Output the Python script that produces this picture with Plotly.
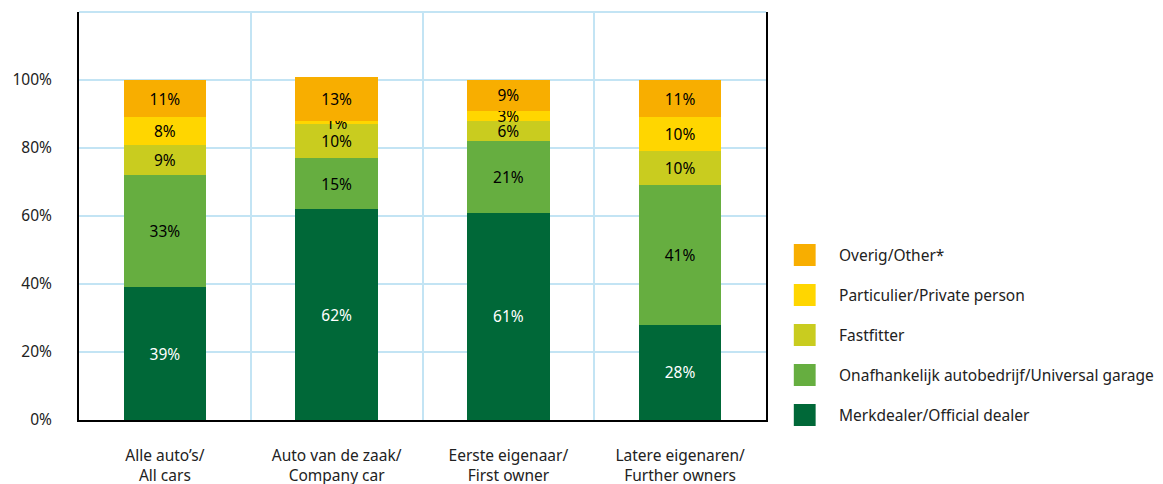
import plotly.graph_objects as go

# Categories (two-line tick labels)
categories = ["Alle auto’s/<br>All cars", "Auto van de zaak/<br>Company car",
              "Eerste eigenaar/<br>First owner", "Latere eigenaren/<br>Further owners"]

# Series, bottom to top
series_names = ["Merkdealer/Official dealer", "Onafhankelijk autobedrijf/Universal garage",
                "Fastfitter", "Particulier/Private person", "Overig/Other*"]
merkdealer = [39, 62, 61, 28]
onafhankelijk = [33, 15, 21, 41]
fastfitter = [9, 10, 6, 10]
particulier = [8, 1, 3, 10]
overig = [11, 13, 9, 11]

values = [merkdealer, onafhankelijk, fastfitter, particulier, overig]
colors = ["#006838", "#66ae40", "#c9cc1f", "#ffd600", "#f8ae00"]
text_colors = ["white", "black", "black", "black", "black"]

FONT = "Noto Sans"
FS = 15.5
xpos = list(range(len(categories)))

# page has an 8px body margin; plot area in screen px: x 74..766, y 12..420
PX0, PX1 = 74, 766
fig = go.Figure()
for name, vals, col, tcol in zip(series_names, values, colors, text_colors):
    fig.add_trace(go.Bar(
        x=xpos, y=vals, name=name,
        marker=dict(color=col, line=dict(width=0)),
        text=[f"{v}%" for v in vals],
        textposition="inside", insidetextanchor="middle", textangle=0,
        textfont=dict(color=tcol, size=FS, family=FONT),
        constraintext="none",
        width=0.48, showlegend=False,
    ))

# Manual legend (top item = last series)
leg_top = 255
pw = PX1 - PX0
for i, (name, col) in enumerate(zip(series_names[::-1], colors[::-1])):
    yc = leg_top + i * 40
    fig.add_shape(type="rect", xref="paper", yref="paper",
                  x0=(794 - PX0) / pw, x1=(816 - PX0) / pw,
                  y0=1 - (yc - 12 + 11) / 408, y1=1 - (yc - 12 - 11) / 408,
                  fillcolor=col, line=dict(width=0))
    fig.add_annotation(xref="paper", yref="paper", x=(838 - PX0) / pw,
                       y=1 - (yc - 12) / 408, text=name, showarrow=False,
                       xanchor="left", yanchor="middle",
                       font=dict(size=FS, family=FONT, color="#222"))

fig.update_layout(
    width=1163, height=484,
    margin=dict(l=PX0 - 8, r=1163 + 8 - PX1, t=4, b=72),
    barmode="stack",
    uniformtext=dict(mode="show", minsize=FS),
    plot_bgcolor="white", paper_bgcolor="white",
    font=dict(family=FONT, size=FS, color="#222"),
    xaxis=dict(
        range=[-0.5, 3.5], tickvals=xpos, ticktext=categories,
        showgrid=False, showline=True, linecolor="black", linewidth=2,
        mirror=False, ticks="", ticklabelstandoff=20,
        minor=dict(tick0=0.5, dtick=1, showgrid=True, gridcolor="#c3e4f4", gridwidth=2),
        zeroline=False,
    ),
    yaxis=dict(
        range=[0, 120], tickvals=[0, 20, 40, 60, 80, 100],
        ticktext=["0%", "20%", "40%", "60%", "80%", "100%"],
        showgrid=True, gridcolor="#c3e4f4", gridwidth=2,
        showline=True, linecolor="black", linewidth=2, mirror=True,
        ticks="", ticklabelstandoff=22, zeroline=False,
    ),
)
# top border in light blue
fig.add_shape(type="line", xref="paper", yref="paper", x0=0, x1=1, y0=1, y1=1,
              line=dict(color="#c3e4f4", width=2))

fig.write_html("out.html")
